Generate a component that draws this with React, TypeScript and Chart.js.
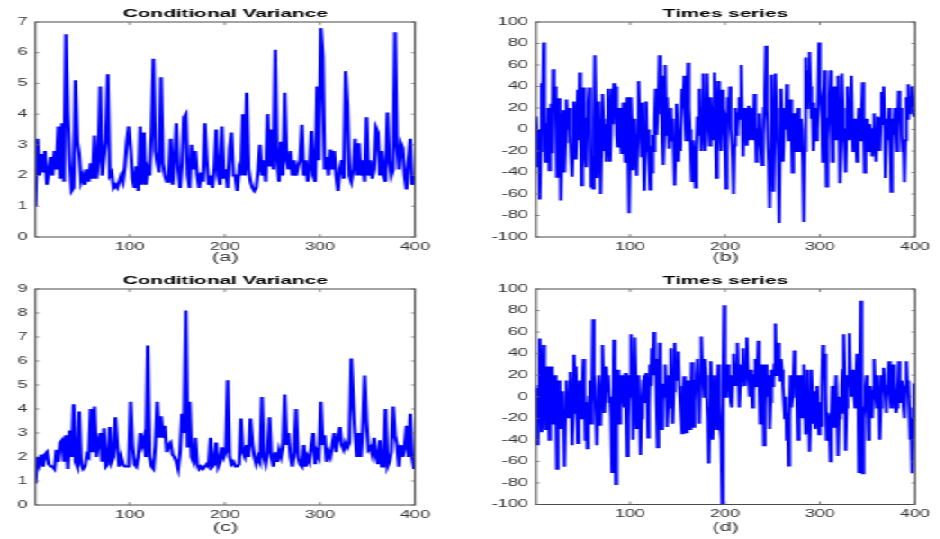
import React, { useEffect, useRef } from 'react';
import { Chart, registerables } from 'chart.js';

Chart.register(...registerables);

// ---------- data ----------
// variance panels: one reading every 2 time steps; series panels: one reading per step
const X_MIN = 1;
const X_MAX = 400;
const xTicks = [100, 200, 300, 400];
const varianceTicksA = [0, 1, 2, 3, 4, 5, 6, 7];
const varianceTicksC = [0, 1, 2, 3, 4, 5, 6, 7, 8, 9];
const seriesTicks = [-100, -80, -60, -40, -20, 0, 20, 40, 60, 80, 100];
const titleVariance = 'Conditional Variance';
const titleSeries = 'Times series';
const captions = ['(a)', '(b)', '(c)', '(d)'];

const varianceA = [
  1.0, 3.2, 2.0, 2.7, 2.1, 2.8, 1.7, 2.1, 2.6, 2.0,
  2.8, 2.2, 3.6, 1.9, 3.7, 1.8, 6.6, 4.0, 2.5, 1.5,
  1.6, 5.1, 3.1, 2.7, 1.8, 2.0, 1.7, 2.2, 1.8, 2.4,
  1.9, 3.3, 1.9, 2.5, 4.9, 2.0, 2.6, 3.2, 5.3, 2.0,
  2.1, 1.6, 1.7, 1.6, 1.8, 2.0, 1.8, 2.3, 3.1, 3.6,
  2.9, 1.9, 1.6, 2.3, 1.5, 3.6, 1.7, 3.4, 1.7, 2.2,
  2.0, 3.4, 5.8, 2.8, 2.4, 2.1, 5.2, 2.4, 2.0, 1.8,
  1.8, 3.2, 1.7, 2.5, 3.7, 2.2, 1.6, 2.4, 3.9, 4.0,
  2.0, 1.6, 3.0, 2.2, 2.8, 2.0, 1.6, 2.1, 1.8, 3.7,
  2.5, 1.7, 2.0, 1.6, 2.2, 3.5, 2.0, 1.7, 3.6, 1.9,
  2.2, 1.6, 2.9, 3.4, 2.0, 2.0, 1.5, 2.2, 2.0, 4.0,
  2.0, 4.7, 2.2, 1.8, 1.6, 1.5, 1.6, 2.2, 3.0, 2.0,
  2.5, 1.8, 4.0, 2.3, 3.5, 2.2, 6.1, 2.5, 1.8, 3.1,
  2.0, 4.7, 2.5, 2.2, 2.8, 2.0, 2.5, 2.0, 2.3, 2.5,
  3.65, 2.0, 2.5, 1.8, 2.2, 3.45, 2.0, 1.8, 4.9, 2.5,
  6.8, 5.9, 2.2, 2.6, 2.0, 2.85, 2.2, 2.8, 2.0, 1.5,
  2.2, 2.5, 1.9, 5.4, 4.3, 2.0, 1.8, 2.2, 3.2, 2.0,
  3.05, 2.0, 2.5, 1.8, 3.9, 2.0, 2.5, 1.9, 2.2, 3.55,
  3.4, 2.0, 2.8, 2.0, 1.8, 4.05, 2.5, 2.0, 2.2, 6.67,
  3.0, 2.2, 3.05, 2.9, 2.0, 1.55, 2.5, 3.2, 1.7, 2.0,
];

const seriesB = [
  12, -5, -35, 0, -65, -20, 43, 25, 81, 20, -30, -10, 5, 20, -38, -15, 24, -22, 56, 30,
  40, 15, -44, -10, 29, 20, -66, -30, 10, 18, -40, -12, 28, 10, 0, 20, -5, -25, -44, -15,
  26, 5, -28, -5, 37, -10, 53, 25, -52, -20, 39, 15, -21, -35, 10, 25, 39, 5, -53, -25,
  -55, 10, 69, 20, -45, -10, 26, -5, -60, -15, 33, 10, -20, 5, -30, -15, 38, 10, -30, -5,
  38, 5, 43, 15, 40, -5, -16, 12, 20, -8, -22, 8, 25, -10, -30, 5, 30, -20, -78, -25,
  30, 5, -38, -10, 10, -20, -43, -5, 45, 15, 0, -25, 25, -10, -57, -20, 26, -15, 0, -30,
  -56, -15, -40, -5, -20, 10, 38, -5, 15, 30, 69, 20, 50, -10, -33, -5, 60, 10, 30, 5,
  -18, 5, 20, -10, 10, -20, -52, -15, 24, 0, -30, -5, -20, 15, 38, 20, 50, 15, -10, 20,
  62, 20, 0, -20, -48, -10, -22, -35, -54, -15, 12, -5, 38, 5, -20, 20, 52, 10, -20, 15,
  52, 15, 0, -15, 30, 10, -10, 20, 53, 5, -45, -10, 45, 15, 0, -20, 37, 20, 15, -10,
  -55, -10, 30, 10, 40, 0, -10, -25, -60, -15, 20, -5, 0, 15, 30, 10, 60, 20, -25, 10,
  0, 20, -15, 5, 22, -10, -5, 20, 15, -10, 33, 10, -30, -10, 0, 15, -10, -20, -33, -5,
  20, 35, 78, 20, -10, -30, -73, -20, 51, 10, -58, -10, 52, 20, 10, -30, -87, -20, 38, 0,
  -30, -5, 20, 0, 42, 15, -10, 10, 28, 0, -40, -15, 15, -5, -20, 10, 20, -5, -20, 10,
  0, -30, -86, -20, 67, 20, 55, 30, 72, 40, 10, 25, -20, 0, 20, -10, 0, 30, 81, 40,
  30, 10, -30, 20, 55, 10, -53, -10, 10, 30, 55, 15, -30, 0, 40, 10, -10, 25, 50, 10,
  -50, -10, 52, 20, 0, -20, -40, 0, 40, 15, -10, 20, 50, 10, -20, 5, 10, -15, -30, 0,
  20, -5, -10, 15, 44, 10, -40, -15, 10, -5, -20, 5, 0, -10, -25, 0, 15, -10, -30, -5,
  12, -5, -20, 10, 35, 5, 40, 10, -45, -10, 10, -10, 20, -5, -58, -20, 10, -5, 20, 0,
  -20, 5, 36, 10, 20, -5, -20, -10, -49, -10, 30, 10, 42, 15, 20, 30, 40, 25, 12, 15,
];

const varianceC = [
  0.9, 2.0, 1.7, 2.1, 1.6, 2.1, 2.2, 1.7, 1.6, 1.6,
  1.5, 2.3, 1.8, 2.6, 2.7, 1.8, 2.9, 1.5, 3.1, 2.0,
  4.2, 1.8, 1.6, 3.9, 1.7, 1.5, 1.6, 2.1, 2.0, 4.0,
  2.2, 4.1, 2.0, 2.6, 3.0, 1.8, 3.2, 1.6, 1.7, 3.25,
  1.8, 2.0, 3.65, 2.5, 1.6, 2.0, 1.7, 1.6, 1.6, 1.6,
  4.3, 2.5, 1.7, 1.6, 2.0, 3.0, 2.5, 2.8, 2.0, 6.65,
  2.0, 1.6, 1.5, 2.5, 4.3, 2.8, 3.7, 2.8, 3.3, 2.2,
  2.5, 2.6, 2.1, 2.0, 1.8, 1.5, 2.2, 3.8, 3.0, 8.1,
  2.4, 4.3, 2.0, 1.8, 2.8, 1.7, 1.5, 1.6, 1.5, 1.6,
  1.7, 1.6, 2.8, 1.6, 1.7, 2.6, 1.6, 1.8, 2.4, 2.0,
  2.2, 5.2, 2.0, 1.7, 1.8, 1.6, 1.6, 1.7, 3.6, 2.2,
  2.0, 2.5, 2.0, 3.6, 2.6, 2.0, 1.7, 2.0, 1.8, 4.5,
  2.0, 1.7, 2.2, 3.65, 2.0, 1.6, 2.2, 1.8, 2.3, 2.0,
  2.4, 4.6, 2.5, 3.0, 2.0, 1.6, 2.2, 4.0, 2.0, 1.7,
  1.6, 2.5, 1.6, 2.0, 1.8, 2.5, 3.0, 1.7, 2.2, 2.0,
  4.3, 2.5, 2.9, 1.8, 2.2, 2.0, 2.5, 3.0, 2.2, 2.8,
  3.25, 2.5, 2.3, 2.6, 2.4, 2.6, 6.1, 4.5, 3.0, 2.0,
  3.0, 2.0, 3.2, 5.4, 3.5, 2.3, 2.4, 2.1, 2.8, 2.0,
  1.7, 2.7, 1.6, 1.6, 4.0, 1.6, 1.8, 2.2, 4.1, 2.9,
  2.5, 1.6, 2.5, 2.0, 2.4, 3.3, 2.0, 3.8, 2.0, 1.5,
];

const seriesD = [
  8, -20, -45, 10, 54, 20, -33, -10, 48, 15, -30, 0, 28, 5, -40, -10, 28, 0, -25, -10,
  20, 0, -67, -20, 15, -5, -30, -10, 5, -25, -65, -15, 15, -5, -20, 0, 23, 5, -45, -15,
  39, 10, 28, -10, -43, -15, 15, -5, -20, 10, 35, 10, -40, -5, -48, -20, 0, 15, -25, -5,
  72, 20, 10, -15, -45, -10, 20, 5, -27, 10, 48, 15, -15, 5, 28, 10, 20, -5, 0, -20,
  -70, -20, 53, 10, -81, -30, 25, 0, -25, -10, 20, 5, 0, -10, 22, -15, -55, -20, 20, 0,
  58, 20, -40, 5, 55, 20, -30, -10, 20, -15, -54, -20, 0, 15, 20, -5, 22, 5, -38, -10,
  30, 10, 45, 20, 60, 25, 35, -10, -47, -10, 50, 15, -30, -5, 12, 0, 30, 5, -28, -10,
  20, 10, 45, 10, -25, 5, 50, 20, 15, 25, 42, 10, -5, -20, -34, -10, 19, -5, -33, -10,
  15, -5, -30, -10, 32, 5, -28, -5, 15, 20, 35, 5, -25, 15, 56, 30, 20, 0, 35, 20,
  0, -20, -62, -10, 33, 0, -40, -10, 20, 0, -30, -10, 30, -5, -30, -40, -100, 10, 85, 20,
  0, 15, 30, 5, 20, -5, -10, 15, 40, 20, 10, 30, 50, 20, -10, 10, 30, 15, 45, 20,
  10, 30, 55, 25, 15, 0, 25, 10, -10, 5, 20, 35, 10, 20, 52, 15, -25, 0, 30, 10,
  -45, -10, 30, 10, 0, 20, -30, -5, 25, 10, 15, 30, 68, 20, 30, 50, 30, 15, 35, 25,
  10, -5, -20, 0, -40, -15, -64, -20, 20, -10, 0, 15, 43, 10, 20, -5, -40, -15, 20, 0,
  -20, 5, 30, -5, -35, 0, 25, -10, -51, -20, 25, 0, -25, 5, -30, -10, 10, -15, -35, -5,
  -27, 10, 48, 20, 40, 5, -40, -15, -20, -30, -60, -20, 10, -5, -28, 0, 20, -10, -55, -20,
  0, -15, 10, 25, 58, 20, -50, -10, 20, 10, 59, 25, 0, 10, 25, 0, -10, 15, 40, 20,
  -70, 10, 89, 0, -71, -20, -10, 10, 20, -10, -40, -15, 10, -5, -20, 5, 35, 10, 0, -10,
  20, 0, -40, -10, 20, 5, 27, 10, 0, -15, 10, 20, 33, 5, -10, 10, 30, 15, 0, -15,
  -10, 5, 33, 10, -5, 15, 10, -10, -20, 5, 33, 10, 15, -10, -40, -30, -71, -20, 10, 9,
];

// ---------- styling ----------
const STRETCH = 1.8; // the reference figure is stretched horizontally
const FONT = '"Liberation Sans", Arial, Helvetica, sans-serif';
const TICK_COLOR = '#333333';
const LINE_COLOR = '#0000ff';

const framePlugin = {
  id: 'matlabFrame',
  afterDatasetsDraw(chart: any) {
    const { ctx, chartArea, scales } = chart;
    const { left, right, top, bottom } = chartArea;
    ctx.save();
    ctx.strokeStyle = '#4a4a4a';
    ctx.lineWidth = 1;
    ctx.strokeRect(left, top, right - left, bottom - top);
    ctx.strokeStyle = '#666666';
    ctx.lineWidth = 0.8;
    ctx.beginPath();
    scales.x.ticks.forEach((t: any) => {
      const px = scales.x.getPixelForValue(t.value);
      ctx.moveTo(px, bottom);
      ctx.lineTo(px, bottom - 3);
      ctx.moveTo(px, top);
      ctx.lineTo(px, top + 3);
    });
    scales.y.ticks.forEach((t: any) => {
      const py = scales.y.getPixelForValue(t.value);
      ctx.moveTo(left, py);
      ctx.lineTo(left + 2, py);
      ctx.moveTo(right, py);
      ctx.lineTo(right - 2, py);
    });
    ctx.stroke();
    ctx.restore();
  },
};

type Box = { left: number; top: number; width: number; height: number };
type Plot = { left: number; right: number; top: number; bottom: number };

function Panel(props: {
  values: number[];
  yTicks: number[];
  title: string;
  caption: string;
  box: Box;
  plot: Plot;
  titleY: number;
  captionY: number;
  lineWidth: number;
}) {
  const ref = useRef<HTMLCanvasElement>(null);
  const { values, yTicks, title, caption, box, plot, titleY, captionY, lineWidth } = props;

  useEffect(() => {
    const canvas = ref.current;
    if (!canvas) return;
    const titleSize = 11.5;
    const titleLH = titleSize * 1.2;
    const capSize = 12;
    const capLH = capSize * 1.2;
    const step = X_MAX / values.length;
    const chart = new Chart(canvas, {
      type: 'line',
      data: {
        datasets: [
          {
            data: values.map((v, i) => ({ x: X_MIN + i * step, y: v })),
            borderColor: LINE_COLOR,
            backgroundColor: LINE_COLOR,
            borderWidth: lineWidth,
            pointRadius: 0,
            tension: 0,
            fill: false,
          },
        ],
      },
      options: {
        animation: false,
        responsive: false,
        maintainAspectRatio: false,
        devicePixelRatio: 1,
        events: [],
        layout: { padding: { left: 0, top: 0, bottom: 0, right: box.width - plot.right } },
        plugins: {
          legend: { display: false },
          tooltip: { enabled: false },
          title: {
            display: true,
            text: title,
            fullSize: false,
            color: '#000000',
            font: { family: FONT, size: titleSize, weight: 'bold' },
            padding: { top: titleY - titleLH / 2, bottom: plot.top - titleY - titleLH / 2 },
          },
        },
        scales: {
          x: {
            type: 'linear',
            min: X_MIN,
            max: X_MAX,
            grid: { display: false, drawTicks: false },
            border: { display: false },
            ticks: {
              font: { family: FONT, size: 10 },
              color: TICK_COLOR,
              padding: 4,
              maxRotation: 0,
              autoSkip: false,
            },
            afterBuildTicks: (s: any) => {
              s.ticks = xTicks.map((v) => ({ value: v }));
            },
            afterFit: (s: any) => {
              s.height = box.height - plot.bottom;
            },
            title: {
              display: true,
              text: caption,
              color: TICK_COLOR,
              font: { family: FONT, size: capSize },
              padding: { top: 0, bottom: box.height - captionY - capLH / 2 },
            },
          },
          y: {
            type: 'linear',
            min: yTicks[0],
            max: yTicks[yTicks.length - 1],
            grid: { display: false, drawTicks: false },
            border: { display: false },
            ticks: {
              font: { family: FONT, size: 10 },
              color: TICK_COLOR,
              padding: 4.5,
              autoSkip: false,
            },
            afterBuildTicks: (s: any) => {
              s.ticks = yTicks.map((v) => ({ value: v }));
            },
            afterFit: (s: any) => {
              s.width = plot.left;
            },
          },
        },
      } as any,
      plugins: [framePlugin],
    });
    return () => chart.destroy();
  }, []);

  return (
    <canvas
      ref={ref}
      width={box.width}
      height={box.height}
      style={{
        position: 'absolute',
        left: box.left,
        top: box.top,
        width: box.width,
        height: box.height,
        display: 'block',
      }}
    />
  );
}

export default function App() {
  const leftPlotTop: Plot = { left: 19.7, right: 230.6, top: 22, bottom: 237 };
  const rightPlotTop: Plot = { left: 35.8, right: 246.3, top: 22, bottom: 237 };
  const leftPlotBottom: Plot = { left: 19.7, right: 230.6, top: 21, bottom: 237 };
  const rightPlotBottom: Plot = { left: 35.8, right: 246.3, top: 21, bottom: 236.5 };
  return (
    <div
      style={{
        position: 'absolute',
        left: 0,
        top: 0,
        width: 522,
        height: 539,
        background: '#ffffff',
        transform: `scaleX(${STRETCH})`,
        transformOrigin: '0 0',
        overflow: 'hidden',
      }}
    >
      <Panel
        values={varianceA}
        yTicks={varianceTicksA}
        title={titleVariance}
        caption={captions[0]}
        box={{ left: 0, top: 0, width: 250, height: 268 }}
        plot={leftPlotTop}
        titleY={13.5}
        captionY={258}
        lineWidth={2}
      />
      <Panel
        values={seriesB}
        yTicks={seriesTicks}
        title={titleSeries}
        caption={captions[1]}
        box={{ left: 262, top: 0, width: 260, height: 268 }}
        plot={rightPlotTop}
        titleY={13.5}
        captionY={258}
        lineWidth={1.8}
      />
      <Panel
        values={varianceC}
        yTicks={varianceTicksC}
        title={titleVariance}
        caption={captions[2]}
        box={{ left: 0, top: 268, width: 250, height: 271 }}
        plot={leftPlotBottom}
        titleY={12.5}
        captionY={260}
        lineWidth={2}
      />
      <Panel
        values={seriesD}
        yTicks={seriesTicks}
        title={titleSeries}
        caption={captions[3]}
        box={{ left: 262, top: 268, width: 260, height: 271 }}
        plot={rightPlotBottom}
        titleY={12.5}
        captionY={260}
        lineWidth={1.8}
      />
    </div>
  );
}
